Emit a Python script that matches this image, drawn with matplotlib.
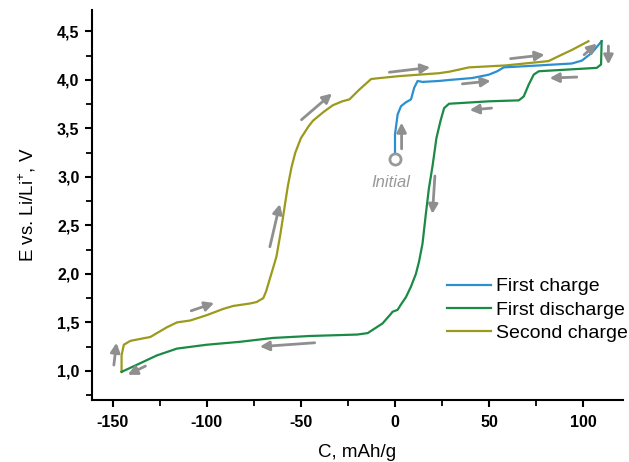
import matplotlib
matplotlib.use("Agg")
import matplotlib.pyplot as plt
from matplotlib.ticker import MultipleLocator, FuncFormatter

plt.rcParams["font.family"] = "Liberation Sans"
plt.rcParams["mathtext.fontset"] = "custom"
plt.rcParams["mathtext.rm"] = "Liberation Sans"

# first charge (from the initial state)
c_charge1 = [0, 0, 1.4, 3.2, 5.8, 8.5, 10.2, 12, 14.6, 23.4, 28.7, 41, 49.9,
             54.3, 57.8, 76.4, 94, 99.3, 104.6, 109.8]
e_charge1 = [3.25, 3.44, 3.645, 3.73, 3.77, 3.80, 3.92, 3.99, 3.98, 3.99, 4.00,
             4.02, 4.055, 4.09, 4.13, 4.15, 4.17, 4.20, 4.28, 4.40]

# first discharge
c_discharge1 = [109.8, 109.5, 107.2, 94, 76.4, 73.7, 71, 68.4, 65.8, 49.9, 28.7,
                26.1, 24.2, 22, 20, 18, 16.4, 14.6, 12.8, 11.1, 8.5, 5.8, 3,
                1.4, -1.3, -2.1, -6.6, -14.5, -20, -45.3, -64.8, -82.4, -100,
                -115.9, -126.5, -135.3, -145.3]
e_discharge1 = [4.40, 4.16, 4.125, 4.11, 4.09, 4.055, 3.95, 3.83, 3.79, 3.78,
                3.755, 3.71, 3.58, 3.40, 3.12, 2.88, 2.62, 2.31, 2.13, 2.00,
                1.87, 1.76, 1.68, 1.63, 1.61, 1.59, 1.49, 1.39, 1.375, 1.36,
                1.34, 1.30, 1.27, 1.23, 1.16, 1.08, 0.99]

# second charge
c_charge2 = [-145.3, -145.3, -144.1, -140.6, -135.3, -130, -126.5, -121.2,
             -115.9, -108.8, -100, -91.2, -85.9, -77.1, -73.6, -70, -68.5,
             -66.5, -64.5, -63, -61, -59, -57, -55, -53, -50, -46, -43.6, -38,
             -33, -28, -24.2, -19, -12.7, -8, 2.3, 23.4, 28.7, 32.3, 39.3,
             58.7, 81.6, 86.9, 94, 102.8]
e_charge2 = [0.99, 1.16, 1.27, 1.31, 1.33, 1.35, 1.39, 1.45, 1.50, 1.52, 1.575,
             1.64, 1.67, 1.695, 1.71, 1.75, 1.82, 1.95, 2.08, 2.18, 2.40, 2.65,
             2.90, 3.10, 3.25, 3.40, 3.52, 3.58, 3.67, 3.74, 3.78, 3.80, 3.90,
             4.01, 4.02, 4.04, 4.07, 4.085, 4.10, 4.13, 4.15, 4.195, 4.245,
             4.31, 4.40]

initial_c = 0
initial_e = 3.19

# direction arrows: start -> end
arrow_x0 = [3.5, -49.7, -3.0, 35.8, 61.4, 100.5, 113.4, 96.6, 51.3, 21.2, -42.7, -66.5, -108.3, -149.4, -132.6]
arrow_y0 = [3.29, 3.59, 4.08, 3.96, 4.22, 4.26, 4.35, 4.03, 3.71, 3.01, 1.29, 2.28, 1.62, 1.06, 1.05]
arrow_x1 = [3.5, -33.5, 18.7, 50.8, 79.5, 107.2, 113.4, 82.2, 39.7, 19.9, -71.8, -61.2, -96.1, -148.0, -142.0]
arrow_y1 = [3.56, 3.86, 4.13, 3.99, 4.26, 4.375, 4.16, 4.02, 3.69, 2.62, 1.25, 2.72, 1.70, 1.29, 0.96]

blue = "#2b8fd1"
green = "#1b8a45"
olive = "#9b9a1c"
grey = "#8f8f8f"


def comma_y(v, pos):
    return f"{v:.1f}".replace(".", ",")


def plain_x(v, pos):
    return f"{v:.0f}"


fig = plt.figure(figsize=(6.29, 4.62), dpi=100)
ax = fig.add_axes([0.1463, 0.1342, 0.8437, 0.8438])

ax.plot(c_charge1, e_charge1, color=blue, lw=1.6, label="First charge", zorder=3)
ax.plot(c_discharge1, e_discharge1, color=green, lw=1.6, label="First discharge", zorder=3)
ax.plot(c_charge2, e_charge2, color=olive, lw=1.6, label="Second charge", zorder=2)

ax.plot([initial_c], [initial_e], "o", ms=8, mfc="white", mec="#999999", mew=2, zorder=4)
ax.text(initial_c - 2, initial_e - 0.25, "Initial", color="#999999", style="italic",
        fontsize=12, ha="center", va="center")

for x0, y0, x1, y1 in zip(arrow_x0, arrow_y0, arrow_x1, arrow_y1):
    ax.annotate("", xy=(x1, y1), xytext=(x0, y0),
                arrowprops=dict(arrowstyle="-|>,head_length=0.55,head_width=0.28",
                                color=grey, lw=2, shrinkA=0, shrinkB=0))

ax.set_xlim(-161, 121)
ax.set_ylim(0.70, 4.72)
ax.xaxis.set_major_locator(MultipleLocator(50))
ax.xaxis.set_minor_locator(MultipleLocator(25))
ax.yaxis.set_major_locator(MultipleLocator(0.5))
ax.yaxis.set_minor_locator(MultipleLocator(0.25))
ax.xaxis.set_major_formatter(FuncFormatter(plain_x))
ax.yaxis.set_major_formatter(FuncFormatter(comma_y))

for side in ["top", "right"]:
    ax.spines[side].set_visible(False)
for side in ["left", "bottom"]:
    ax.spines[side].set_linewidth(1.5)

ax.tick_params(which="major", direction="out", length=5, width=1.5, labelsize=11.5)
ax.tick_params(axis="x", which="major", pad=6)
ax.tick_params(axis="y", which="major", pad=4)
ax.tick_params(which="minor", direction="out", length=4, width=1.3)
for lab in ax.get_xticklabels() + ax.get_yticklabels():
    lab.set_fontweight("bold")

ax.set_xlabel("C, mAh/g", fontsize=13.5, labelpad=10)
ax.set_ylabel("E vs. Li/Li$^{+}$, V", fontsize=13.5, labelpad=14)

ax.legend(loc="center left", bbox_to_anchor=(0.668, 0.231), frameon=False,
          fontsize=14, handlelength=2.3, handletextpad=0.26, labelspacing=0.3,
          borderpad=0, borderaxespad=0)

fig.savefig("out.png", dpi=100)
